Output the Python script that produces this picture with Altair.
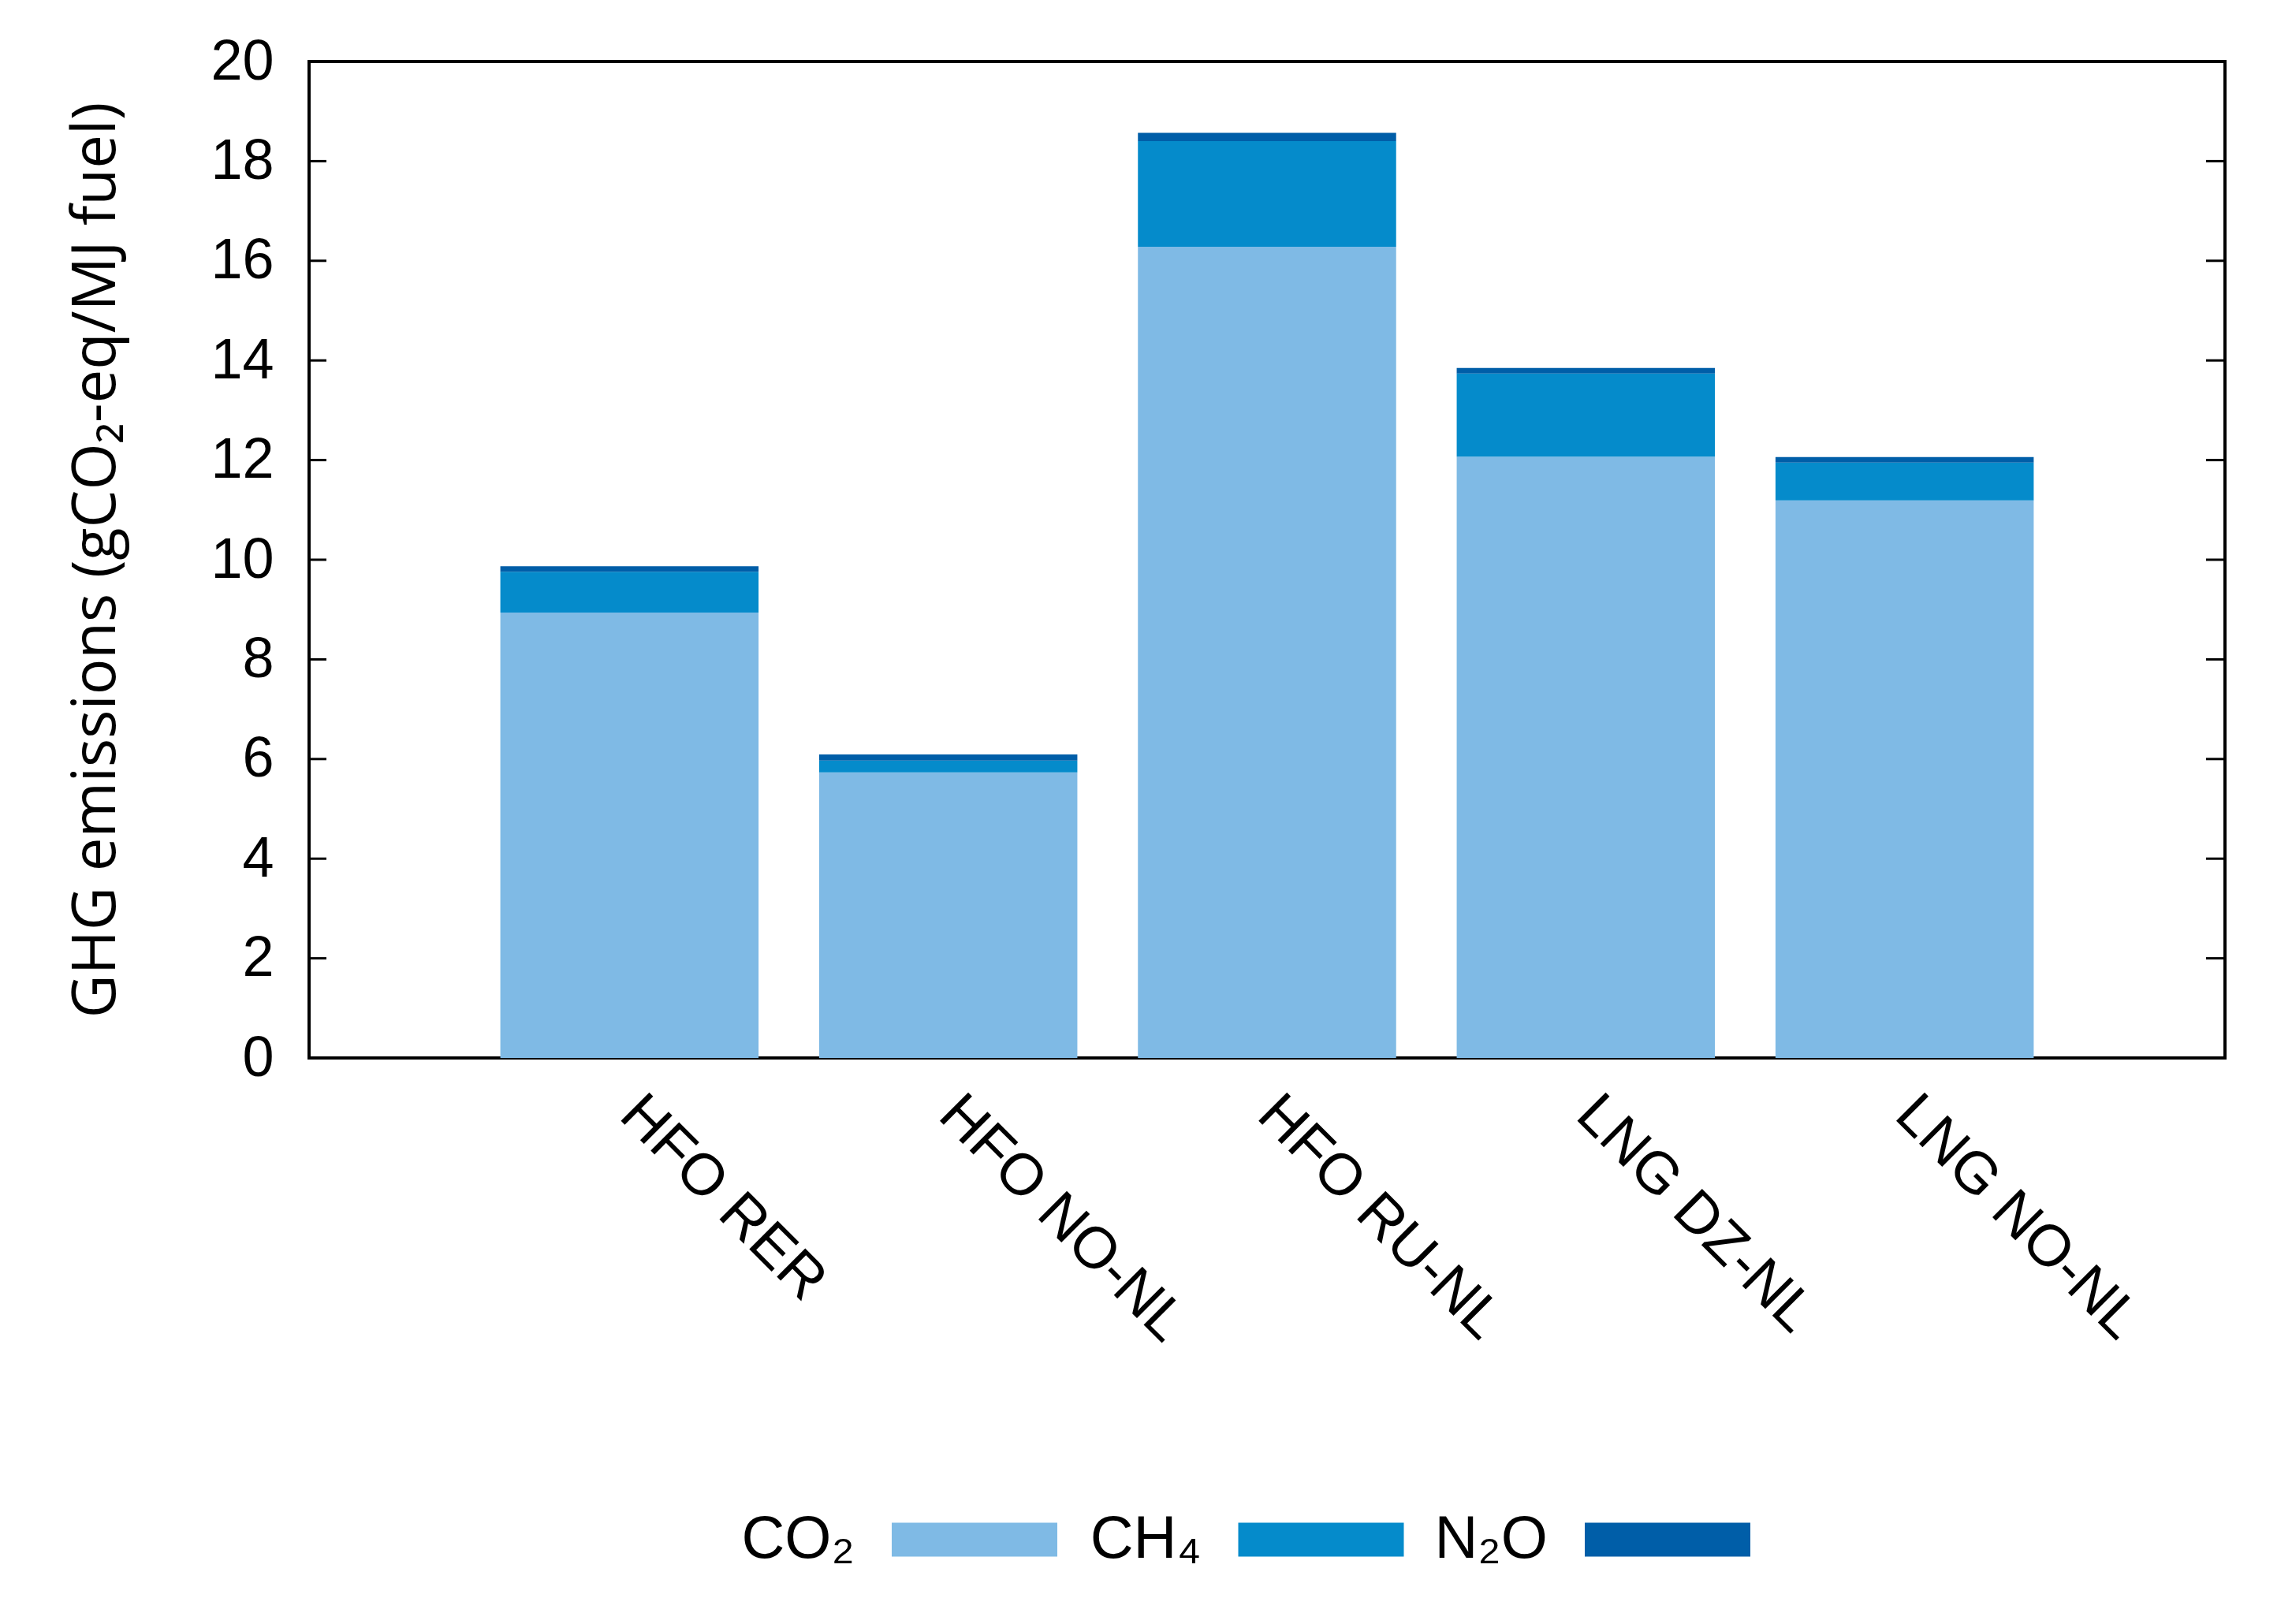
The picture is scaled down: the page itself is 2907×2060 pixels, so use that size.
import altair as alt
import pandas as pd

# ---- data ----
fuels = ["HFO RER", "HFO NO-NL", "HFO RU-NL", "LNG DZ-NL", "LNG NO-NL"]
gases = ["CO₂", "CH₄", "N₂O"]
co2 = [8.94, 5.73, 16.28, 12.07, 11.19]
ch4 = [0.82, 0.24, 2.12, 1.67, 0.76]
n2o = [0.11, 0.12, 0.17, 0.11, 0.11]
y_ticks = [0, 2, 4, 6, 8, 10, 12, 14, 16, 18, 20]
colors = ["#7FBAE5", "#058BCB", "#005EA8"]

rows = []
for gi, (g, vals) in enumerate(zip(gases, [co2, ch4, n2o])):
    for f, v in zip(fuels, vals):
        rows.append({"fuel": f, "gas": g, "ord": gi, "value": v})
df = pd.DataFrame(rows)
df_ticks = pd.DataFrame({"value": y_ticks[1:-1]})
df_leg = pd.DataFrame({"gas": gases})

W, H = 2430, 1264
FONT = "Liberation Sans, DejaVu Sans"
Y_TITLE = "GHG emissions (gCO₂-eq/MJ fuel)"

color_scale = alt.Scale(domain=gases, range=colors)
y_scale = alt.Scale(domain=[0, 20], nice=False, zero=True)

bars = alt.Chart(df).mark_bar(stroke=None).encode(
    x=alt.X(
        "fuel:N",
        sort=fuels,
        scale=alt.Scale(paddingInner=0.19, paddingOuter=0.6),
        axis=alt.Axis(
            title=None,
            labelAngle=45,
            labelAlign="left",
            labelBaseline="top",
            labelLimit=0,
            labelOffset=26,
            ticks=False,
            domain=False,
            labelFontSize=74,
            labelFont=FONT,
            labelColor="black",
            labelPadding=34,
        ),
    ),
    y=alt.Y(
        "value:Q",
        stack="zero",
        scale=y_scale,
        axis=alt.Axis(
            values=y_ticks,
            format="d",
            title=Y_TITLE,
            ticks=False,
            domain=False,
            grid=False,
            labelFontSize=72,
            labelFont=FONT,
            labelColor="black",
            labelPadding=45,
            titleFont="Open Sans, DejaVu Sans",
            titleFontSize=76,
            titleFontWeight="normal",
            titleColor="black",
            titleBaseline="alphabetic",
            titleX=-247,
            titleY=H / 2,
        ),
    ),
    color=alt.Color("gas:N", scale=color_scale, legend=None),
    order=alt.Order("ord:Q", sort="ascending"),
)

ticks_left = alt.Chart(df_ticks).mark_rule(color="black", strokeWidth=3).encode(
    y=alt.Y("value:Q", scale=y_scale, title=Y_TITLE),
    x=alt.value(0),
    x2=alt.value(22),
)
ticks_right = alt.Chart(df_ticks).mark_rule(color="black", strokeWidth=3).encode(
    y=alt.Y("value:Q", scale=y_scale, title=Y_TITLE),
    x=alt.value(W - 24),
    x2=alt.value(W),
)

leg_x = alt.X(
    "gas:O",
    sort=gases,
    scale=alt.Scale(type="point", domain=gases, range=[844, 1723], padding=0),
    axis=None,
)
leg_sw = alt.Chart(df_leg).mark_point(
    shape="M-1,-0.205L1,-0.205L1,0.205L-1,0.205Z",
    size=44100,
    filled=True,
    opacity=1,
    strokeWidth=0,
).encode(
    x=leg_x,
    y=alt.value(1875),
    color=alt.Color("gas:N", scale=color_scale, legend=None),
)
leg_txt = alt.Chart(df_leg).mark_text(
    align="right",
    baseline="alphabetic",
    dx=-152,
    fontSize=76,
    font=FONT,
    color="black",
).encode(
    x=leg_x,
    y=alt.value(1898),
    text="gas:N",
)

chart = (
    alt.layer(bars, ticks_left, ticks_right, leg_sw, leg_txt)
    .resolve_scale(x="independent")
    .properties(
        width=W,
        height=H,
        autosize="none",
        padding={"left": 384, "top": 70, "right": 77, "bottom": 710},
        background="white",
    )
    .configure_view(stroke="black", strokeWidth=4)
)

chart.save("out.html", embed_options={"renderer": "svg", "actions": False})
